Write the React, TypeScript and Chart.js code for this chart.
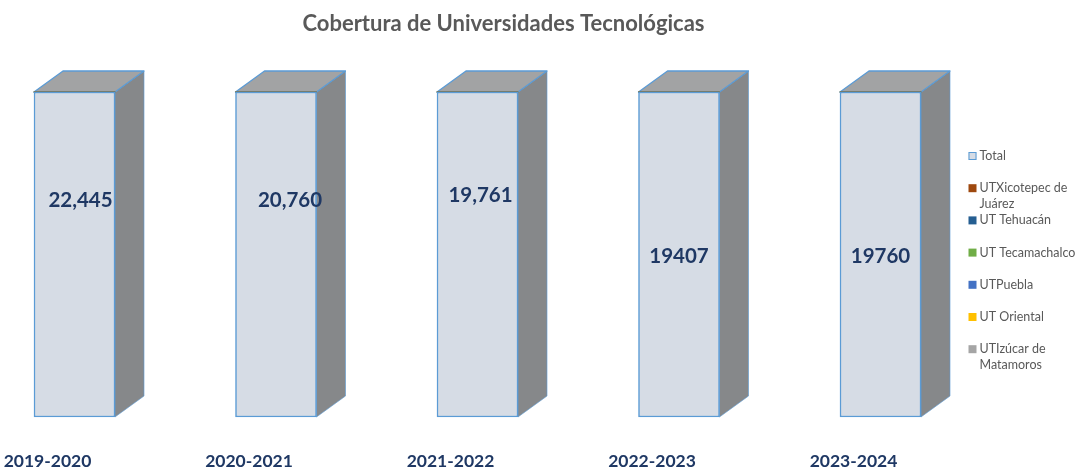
import React, { useEffect, useRef } from "react";
import { Chart, registerables } from "chart.js";

Chart.register(...registerables);

const categories = ["2019-2020", "2020-2021", "2021-2022", "2022-2023", "2023-2024"];
const totalValues = [22445, 20760, 19761, 19407, 19760];
const totalLabels = ["22,445", "20,760", "19,761", "19407", "19760"];
const xicotepecValues = [0, 0, 0, 0, 0];
const tehuacanValues = [0, 0, 0, 0, 0];
const tecamachalcoValues = [0, 0, 0, 0, 0];
const pueblaValues = [0, 0, 0, 0, 0];
const orientalValues = [0, 0, 0, 0, 0];
const izucarValues = [0, 0, 0, 0, 0];

const seriesNames = [
  "Total",
  "UTXicotepec de Juárez",
  "UT Tehuacán",
  "UT Tecamachalco",
  "UTPuebla",
  "UT Oriental",
  "UTIzúcar de Matamoros",
];
const legendLines = [
  ["Total"],
  ["UTXicotepec de", "Juárez"],
  ["UT Tehuacán"],
  ["UT Tecamachalco"],
  ["UTPuebla"],
  ["UT Oriental"],
  ["UTIzúcar de", "Matamoros"],
];
const seriesColors = ["#D6DCE5", "#9E480E", "#255E91", "#70AD47", "#4472C4", "#FFC000", "#A5A5A5"];

// manual data-label placement (as in the original chart)
const labelDx = [6, 14, 3, 0, 0];
const labelYFrac = [0.332, 0.335, 0.317, 0.505, 0.505];

const title = "Cobertura de Universidades Tecnológicas";
const FONT = "Lato, 'Open Sans', sans-serif";

const allSeries = [totalValues, xicotepecValues, tehuacanValues, tecamachalcoValues, pueblaValues, orientalValues, izucarValues];
const sums = categories.map((_, i) => allSeries.reduce((s, arr) => s + arr[i], 0));
const toPct = (arr: number[]) => arr.map((v, i) => (sums[i] ? (v / sums[i]) * 100 : 0));

const DX = 29;
const DY = -21;

const bar3dPlugin = {
  id: "bar3d",
  beforeDatasetsDraw(chart: any) {
    const ctx = chart.ctx;
    const meta = chart.getDatasetMeta(0);
    meta.data.forEach((el: any) => {
      const { x, y, base, width } = el.getProps(["x", "y", "base", "width"], true);
      const xl = x - width / 2;
      const xr = x + width / 2;
      ctx.save();
      ctx.lineJoin = "round";
      ctx.beginPath();
      ctx.moveTo(xr, y);
      ctx.lineTo(xr + DX, y + DY);
      ctx.lineTo(xr + DX, base + DY);
      ctx.lineTo(xr, base);
      ctx.closePath();
      ctx.fillStyle = "#86888A";
      ctx.fill();
      ctx.strokeStyle = "rgba(91,155,213,0.6)";
      ctx.lineWidth = 1;
      ctx.stroke();
      ctx.beginPath();
      ctx.moveTo(xl, y);
      ctx.lineTo(xl + DX, y + DY);
      ctx.lineTo(xr + DX, y + DY);
      ctx.lineTo(xr, y);
      ctx.closePath();
      ctx.fillStyle = "#A2A3A4";
      ctx.fill();
      ctx.strokeStyle = "#5B9BD5";
      ctx.lineWidth = 1.3;
      ctx.stroke();
      ctx.restore();
    });
  },
  afterDatasetsDraw(chart: any) {
    const ctx = chart.ctx;
    const meta = chart.getDatasetMeta(0);
    ctx.save();
    ctx.font = `bold 20.5px ${FONT}`;
    ctx.fillStyle = "#1F3864";
    ctx.textAlign = "center";
    ctx.textBaseline = "middle";
    meta.data.forEach((el: any, i: number) => {
      const { x, y, base } = el.getProps(["x", "y", "base"], true);
      ctx.fillText(totalLabels[i], x + labelDx[i], y + (base - y) * labelYFrac[i]);
    });
    ctx.restore();
  },
  afterDraw(chart: any) {
    const ctx = chart.ctx;
    const area = chart.chartArea;
    ctx.save();
    ctx.font = `bold 22px ${FONT}`;
    ctx.fillStyle = "#595959";
    ctx.textAlign = "center";
    ctx.textBaseline = "middle";
    ctx.fillText(title, 503.5, 24);
    const lx = area.right + 88;
    let ly = 156;
    ctx.font = `12.5px ${FONT}`;
    ctx.textAlign = "left";
    legendLines.forEach((lines, i) => {
      ctx.fillStyle = seriesColors[i];
      ctx.fillRect(lx, ly - 4, 8, 8);
      if (i === 0) {
        ctx.strokeStyle = "#5B9BD5";
        ctx.lineWidth = 1;
        ctx.strokeRect(lx + 0.5, ly - 3.5, 7, 7);
      }
      ctx.fillStyle = "#595959";
      lines.forEach((t, j) => ctx.fillText(t, lx + 11, ly + j * 16));
      ly += 32.2;
    });
    ctx.restore();
  },
};

export default function App() {
  const ref = useRef<HTMLCanvasElement | null>(null);
  useEffect(() => {
    if (!ref.current) return;
    const datasets = allSeries.map((arr, k) => ({
      label: seriesNames[k],
      data: toPct(arr),
      backgroundColor: seriesColors[k],
      borderColor: k === 0 ? "#5B9BD5" : seriesColors[k],
      borderWidth: k === 0 ? 1.5 : 0,
      borderSkipped: false as any,
      barThickness: 81,
      clip: false as any,
    }));
    const chart = new Chart(ref.current, {
      type: "bar",
      data: { labels: categories, datasets },
      options: {
        responsive: false,
        animation: false,
        layout: { padding: { left: 74.5, right: 194.5, top: 92, bottom: -29.5 } },
        plugins: {
          legend: { display: false },
          title: { display: false },
          tooltip: { enabled: false },
        },
        scales: {
          x: {
            stacked: true,
            offset: false,
            grid: { display: false },
            border: { display: false },
            ticks: {
              color: "#1F3864",
              font: { family: FONT, size: 17.5, weight: "bold", lineHeight: 1 },
              padding: 27.5,
              labelOffset: -27,
              maxRotation: 0,
              autoSkip: false,
            },
          },
          y: {
            stacked: true,
            display: false,
            min: 0,
            max: 100,
          },
        },
      },
      plugins: [bar3dPlugin],
    });
    return () => chart.destroy();
  }, []);
  return (
    <div style={{ position: "fixed", left: 0, top: 0, width: 1075, height: 468, background: "#fff" }}>
      <canvas ref={ref} width={1075} height={468} style={{ display: "block" }} />
    </div>
  );
}
